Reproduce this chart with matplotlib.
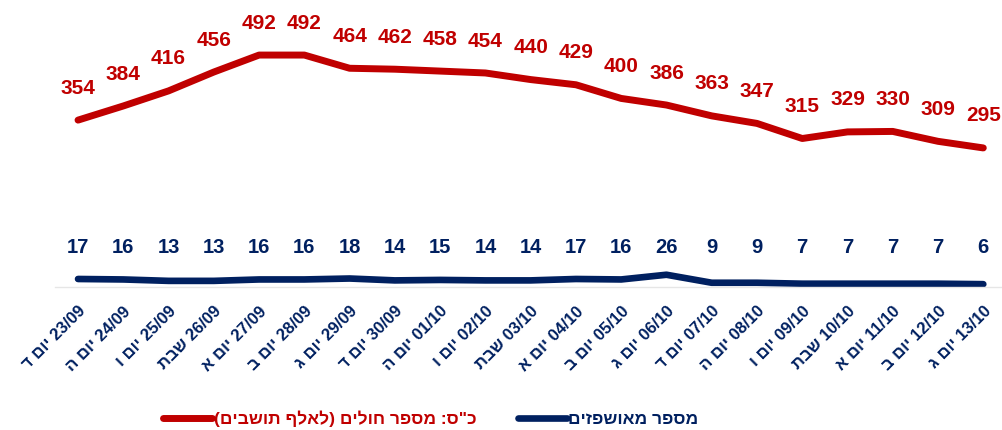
import matplotlib.pyplot as plt

plt.rcParams['font.family'] = ['Liberation Sans', 'DejaVu Sans']

# data
dates = ['23/09', '24/09', '25/09', '26/09', '27/09', '28/09', '29/09', '30/09',
         '01/10', '02/10', '03/10', '04/10', '05/10', '06/10', '07/10', '08/10',
         '09/10', '10/10', '11/10', '12/10', '13/10']
days = ['יום ד', 'יום ה', 'יום ו', 'שבת', 'יום א', 'יום ב', 'יום ג', 'יום ד',
        'יום ה', 'יום ו', 'שבת', 'יום א', 'יום ב', 'יום ג', 'יום ד', 'יום ה',
        'יום ו', 'שבת', 'יום א', 'יום ב', 'יום ג']
sick = [354, 384, 416, 456, 492, 492, 464, 462, 458, 454, 440, 429, 400, 386,
        363, 347, 315, 329, 330, 309, 295]
hosp = [17, 16, 13, 13, 16, 16, 18, 14, 15, 14, 14, 17, 16, 26,
        9, 9, 7, 7, 7, 7, 6]
sick_label = 'כ"ס: מספר חולים (לאלף תושבים)'
hosp_label = 'מספר מאושפזים'

RED = '#C00000'
NAVY = '#002060'


def vis(s):
    # matplotlib has no bidi, so flip hebrew words into visual order
    out = []
    for w in s.split(' ')[::-1]:
        if any('\u0590' <= c <= '\u05ff' for c in w):
            w = w[::-1]
            w = w.translate(str.maketrans('()', ')('))
        out.append(w)
    return ' '.join(out)


def tick_text(d, day):
    return vis(day) + ' ' + d


fig = plt.figure(figsize=(10.02, 4.3), dpi=100)
ax = fig.add_axes([55.4 / 1002, 1 - 287 / 430, 946 / 1002, 264 / 430])

x = list(range(len(dates)))
l1, = ax.plot(x, sick, color=RED, lw=5, solid_capstyle='round', label=vis(sick_label))
l2, = ax.plot(x, hosp, color=NAVY, lw=4.8, solid_capstyle='round', label=vis(hosp_label))

for i, v in enumerate(sick):
    ax.annotate(str(v), (i, v), xytext=(0, 23), textcoords='offset points',
                ha='center', va='center', color=RED, fontsize=15, fontweight='bold')
for i, v in enumerate(hosp):
    ax.text(i, 83, str(v), ha='center', va='center', color=NAVY,
            fontsize=14.5, fontweight='bold')

ax.set_xlim(-0.5, 20.4)
ax.set_ylim(0, 560)
ax.set_yticks([])
ax.set_xticks(x)
ax.set_xticklabels([tick_text(d, dd) for d, dd in zip(dates, days)],
                   rotation=45, ha='right', rotation_mode='anchor',
                   color=NAVY, fontsize=12, fontweight='bold')
ax.tick_params(axis='x', length=0, pad=12)
for s in ['top', 'right', 'left']:
    ax.spines[s].set_visible(False)
ax.spines['bottom'].set_color('#E6E6E6')
ax.spines['bottom'].set_linewidth(1)

leg = fig.legend(handles=[l1, l2], loc='center', bbox_to_anchor=(0.43, 0.027),
                 ncol=2, frameon=False, handlelength=2.8, columnspacing=2.4,
                 handletextpad=0.1, prop={'size': 12.5, 'weight': 'bold'})
for t, c in zip(leg.get_texts(), [RED, NAVY]):
    t.set_color(c)

fig.savefig('out.png', dpi=100)
